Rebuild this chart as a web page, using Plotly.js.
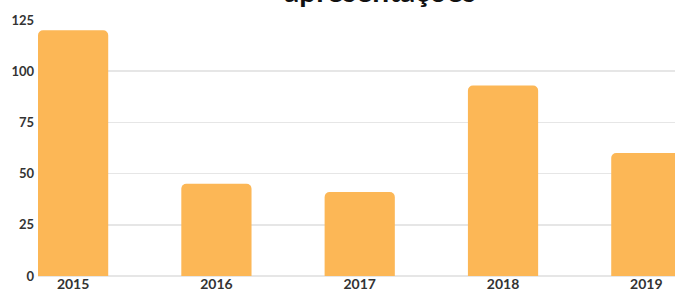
<!DOCTYPE html>
<html>
<head>
<meta charset="utf-8">
<script src="https://cdn.plot.ly/plotly-3.0.1.min.js"></script>
<style>html,body{margin:0;padding:0;background:#fff;}#chart{width:675px;height:291px;}</style>
</head>
<body>
<div id="chart"></div>
<script>
const titleText = "apresentações";
const years = ["2015", "2016", "2017", "2018", "2019"];
const values = [120, 45, 41, 93, 60];
const yTicks = [0, 25, 50, 75, 100, 125];

const trace = {
  type: "bar",
  x: years,
  y: values,
  width: 0.49,
  marker: { color: "#FCB756", cornerradius: 5 },
  hoverinfo: "none"
};

const layout = {
  width: 675,
  height: 291,
  margin: { l: 38, r: 0, t: 20, b: 15, pad: 0 },
  paper_bgcolor: "#ffffff",
  plot_bgcolor: "#ffffff",
  showlegend: false,
  font: { family: "Lato, sans-serif", color: "#333333" },
  annotations: [{
    text: "<b>" + titleText + "</b>",
    font: { family: "Lato, sans-serif", size: 30, color: "#111111", weight: 900 },
    xref: "paper",
    yref: "paper",
    x: (380 - 38) / 637,
    xanchor: "center",
    y: 1.038,
    yanchor: "bottom",
    showarrow: false
  }],
  xaxis: {
    type: "category",
    range: [-0.245, 4.2],
    showgrid: false,
    zeroline: false,
    showline: false,
    ticks: "",
    tickfont: { family: "Lato, sans-serif", size: 14, color: "#333333", weight: "bold" },
    ticklabelstandoff: -2
  },
  yaxis: {
    range: [0, 125],
    tickvals: yTicks,
    ticktext: yTicks.map(String),
    showgrid: true,
    gridcolor: "#e6e6e6",
    gridwidth: 1.5,
    zeroline: true,
    zerolinecolor: "#e6e6e6",
    zerolinewidth: 1.5,
    showline: false,
    ticks: "",
    tickfont: { family: "Lato, sans-serif", size: 13, color: "#333333", weight: "bold" },
    ticklabelstandoff: 3
  }
};

Plotly.newPlot("chart", [trace], layout, { displayModeBar: false, staticPlot: true });
</script>
</body>
</html>
